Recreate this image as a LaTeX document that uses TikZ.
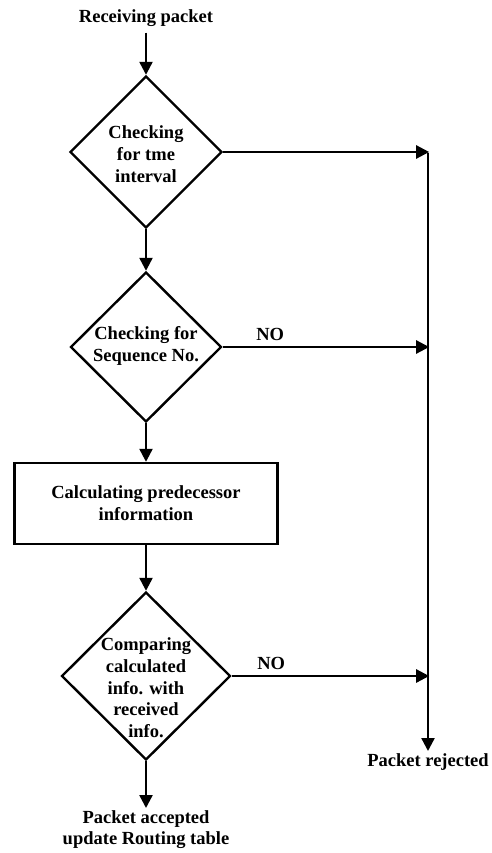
\documentclass[tikz,border=0pt]{standalone}
\usepackage{fontspec}
\setmainfont{Liberation Serif}
\usetikzlibrary{shapes.geometric,arrows.meta}
\begin{document}
\begin{tikzpicture}[x=1pt,y=-1pt,
  line width=2.4pt,
  every node/.style={font=\bfseries\fontsize{18.5}{21.7}\selectfont, align=center},
  txt/.style={inner sep=2pt},
  dia/.style={draw, shape=diamond, inner sep=0pt, aspect=1},
  box/.style={draw, rectangle, inner sep=0pt, minimum width=263pt, minimum height=81pt},
  arr/.style={-{Triangle[length=13pt,width=13pt]}, line width=2.4pt}
]
\useasboundingbox (0,0) rectangle (492,853);
\node[txt] (recv) at (146,18) {Receiving packet};
\node[dia, minimum width=152pt, minimum height=152pt] (d1) at (146,152) {};
\node[txt] (d1t) at (146,154) {Checking\\for tme\\interval};
\node[dia, minimum width=151pt, minimum height=150pt] (d2) at (146,347) {};
\node[txt] (d2t) at (146,346) {Checking for\\Sequence No.};
\node[box] (rect) at (146,503.5) {Calculating predecessor\\information};
\node[dia, minimum width=169pt, minimum height=168pt] (d3) at (146,676) {};
\node[txt] (d3t) at (146,688) {Comparing\\calculated\\info. with\\received\\info.};
\node[txt, inner sep=1pt, anchor=north] (acc) at (146,808) {Packet accepted\\update Routing table};
\node[txt, inner sep=1pt, anchor=north] (rej) at (428,751) {Packet rejected};
\coordinate (j1) at (428,152);
\coordinate (j2) at (428,347);
\coordinate (j3) at (428,676);
\draw[arr] (recv.south) ++(0,3) -- (d1.north);
\draw[arr] (d1.south) -- (d2.north);
\draw[arr] (d2.south) -- (rect.north);
\draw[arr] (rect.south) -- (d3.north);
\draw[arr] (d3.south) -- (acc.north);
\draw[arr] (d1.east) -- ([xshift=1.2pt]j1);
\draw[arr] (d2.east) -- node[pos=0.23, above=2pt] (no1) {NO} ([xshift=1.2pt]j2);
\draw[arr] (d3.east) -- node[pos=0.2, above=2pt] (no2) {NO} ([xshift=1.2pt]j3);
\draw[arr] ([yshift=-1.2pt]j1) -- (rej.north);
\end{tikzpicture}
\end{document}
